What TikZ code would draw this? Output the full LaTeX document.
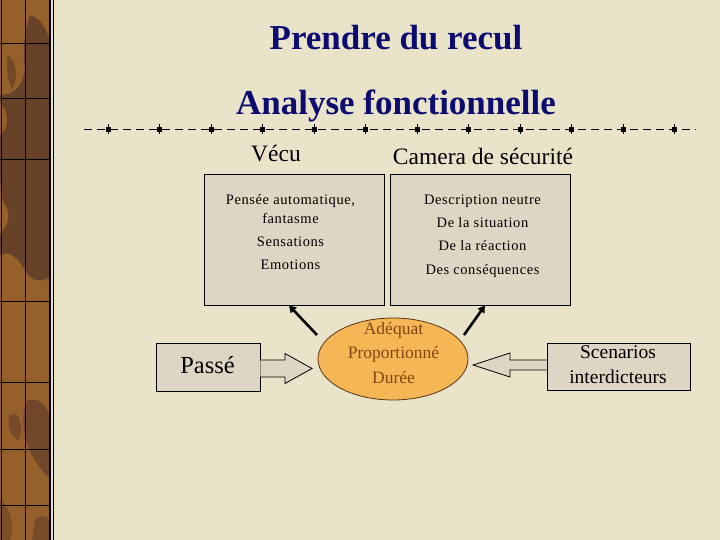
\documentclass[tikz,border=0pt]{standalone}
\usepackage{fontspec}
\setmainfont{Liberation Serif}
\usetikzlibrary{arrows.meta,shapes.geometric,calc}
\definecolor{bg}{RGB}{233,227,201}
\definecolor{strip}{RGB}{150,96,42}
\definecolor{stripdark}{RGB}{92,58,40}
\definecolor{navy}{RGB}{12,12,112}
\definecolor{boxfill}{RGB}{221,214,196}
\definecolor{ovalfill}{RGB}{245,183,85}
\definecolor{ovaltext}{RGB}{130,72,18}
\definecolor{ovalline}{RGB}{90,50,20}
\begin{document}
\begin{tikzpicture}[x=1pt,y=-1pt,
  title/.style={font=\fontsize{35}{40}\selectfont\bfseries, text=navy, inner sep=0pt, anchor=base},
  head/.style={font=\fontsize{23.5}{28}\selectfont, inner sep=0pt, anchor=base},
  small/.style={font=\fontsize{14.5}{17}\selectfont\addfontfeature{LetterSpace=4}, inner sep=0pt, anchor=base},
  oval/.style={font=\fontsize{17.5}{21}\selectfont, text=ovaltext, inner sep=0pt, anchor=base},
  mid/.style={font=\fontsize{19.5}{23}\selectfont, inner sep=0pt, anchor=base},
  box/.style={draw=black, line width=0.8pt, fill=boxfill, inner sep=0pt},
  blockarrow/.style={draw=black, line width=0.8pt, fill=boxfill, line join=miter},
  link/.style={line width=2.6pt, -{Triangle[length=7pt,width=8pt]}},
  sq/.style={fill=black, minimum size=5pt, inner sep=0pt}
]
\useasboundingbox (0,0) rectangle (720,540);
\fill[bg] (0,0) rectangle (720,540);
% left strip
\fill[strip] (0,0) rectangle (50,540);
\begin{scope}
\clip (0,0) rectangle (50,540);
\fill[stripdark, opacity=0.8] (30,15) .. controls (45,20) and (52,40) .. (52,60) -- (52,275) .. controls (40,285) and (30,280) .. (25,270) .. controls (18,258) and (10,250) .. (0,255) -- (0,235) .. controls (8,225) and (12,215) .. (5,205) .. controls (0,195) and (0,180) .. (0,170) -- (0,135) .. controls (8,130) and (10,115) .. (2,105) -- (0,100) -- (0,95) .. controls (15,95) and (22,85) .. (25,70) .. controls (22,50) and (25,30) .. (30,15) -- cycle;
\fill[stripdark, opacity=0.6] (8,55) .. controls (15,60) and (20,75) .. (12,90) .. controls (8,80) and (5,65) .. (8,55) -- cycle;
\fill[stripdark, opacity=0.65] (28,400) .. controls (45,395) and (55,420) .. (52,440) -- (52,480) .. controls (40,470) and (30,455) .. (26,440) .. controls (22,425) and (22,410) .. (28,400) -- cycle;
\fill[stripdark, opacity=0.55] (10,415) .. controls (20,410) and (25,430) .. (18,440) .. controls (10,435) and (6,425) .. (10,415) -- cycle;
\fill[stripdark, opacity=0.5] (35,520) .. controls (45,510) and (55,520) .. (52,540) -- (32,540) -- cycle;
\fill[stripdark, opacity=0.45] (0,500) .. controls (10,505) and (15,525) .. (10,540) -- (0,540) -- cycle;
\end{scope}
\draw[black, line width=0.7pt] (25.5,0) -- (25.5,540);
\foreach \yy in {43,98,159,301,382,449,505} \draw[black, line width=0.7pt] (0,\yy) -- (50,\yy);
\draw[black, line width=2pt] (50,0) -- (50,540);
\draw[black, line width=1.2pt] (53.5,0) -- (53.5,540);
\draw[black, line width=0.6pt] (1.5,0) -- (1.5,540);
% titles
\node[title] (t1) at (396,50) {Prendre du recul};
\node[title] (t2) at (396,115) {Analyse fonctionnelle};
% dashed rule
\coordinate (r1) at (84,129.5);
\coordinate (r2) at (696,129.5);
\draw[line width=1pt, dash pattern=on 8pt off 5pt] (r1) -- (r2);
\foreach \k in {0,...,11} {
  \node[sq] (s\k) at ({108+51.5*\k},129.5) {};
  \draw[line width=0.6pt] ($(s\k)+(0,-5)$) -- ($(s\k)+(0,5)$);
}
% headings
\node[head] (vecu) at (276,162) {Vécu};
\node[head] (cam) at (483,165) {Camera de sécurité};
% boxes
\node[box, minimum width=180pt, minimum height=131pt] (L) at (294,239.5) {};
\node[box, minimum width=180pt, minimum height=131pt] (R) at (480,239.5) {};
\node[small] (l1) at (290.5,205) {Pensée automatique,};
\node[small] (l2) at (290.5,224) {fantasme};
\node[small] (l3) at (290.5,246.5) {Sensations};
\node[small] (l4) at (290.5,269.5) {Emotions};
\node[small] (r1t) at (482.5,205) {Description neutre};
\node[small] (r2t) at (482.5,228) {De la situation};
\node[small] (r3t) at (482.5,251) {De la réaction};
\node[small] (r4t) at (482.5,274) {Des conséquences};
% oval
\node[ellipse, draw=ovalline, line width=0.8pt, fill=ovalfill, minimum width=150pt, minimum height=82pt, inner sep=0pt] (E) at (393,359) {};
\node[oval] (o1) at (393.5,334) {Adéquat};
\node[oval] (o2) at (393.5,358.5) {Proportionné};
\node[oval] (o3) at (393.5,383) {Durée};
% links to boxes
\coordinate (a1) at (317,335);
\coordinate (a2) at (464,335);
\draw[link] (a1) -- ([xshift=-5pt]L.south);
\draw[link] (a2) -- ([xshift=5pt]R.south);
% Passé
\node[box, minimum width=104pt, minimum height=48pt] (P) at (208,367) {};
\node[head, font=\fontsize{24.5}{28}\selectfont] (pt) at (207.5,373.5) {Passé};
\draw[blockarrow] (P.east |- 0,360) -- (285,360) -- (285,353.5) -- (312,368.5) -- (285,383.5) -- (285,377) -- (P.east |- 0,377);
% Scenarios
\node[box, minimum width=143pt, minimum height=47pt] (S) at (618.5,366.5) {};
\node[mid] (s1t) at (618,358) {Scenarios};
\node[mid] (s2t) at (618,383) {interdicteurs};
\draw[blockarrow] (S.west |- 0,360) -- (510,360) -- (510,353) -- (473,365) -- (510,377) -- (510,370) -- (S.west |- 0,370);
\end{tikzpicture}
\end{document}
